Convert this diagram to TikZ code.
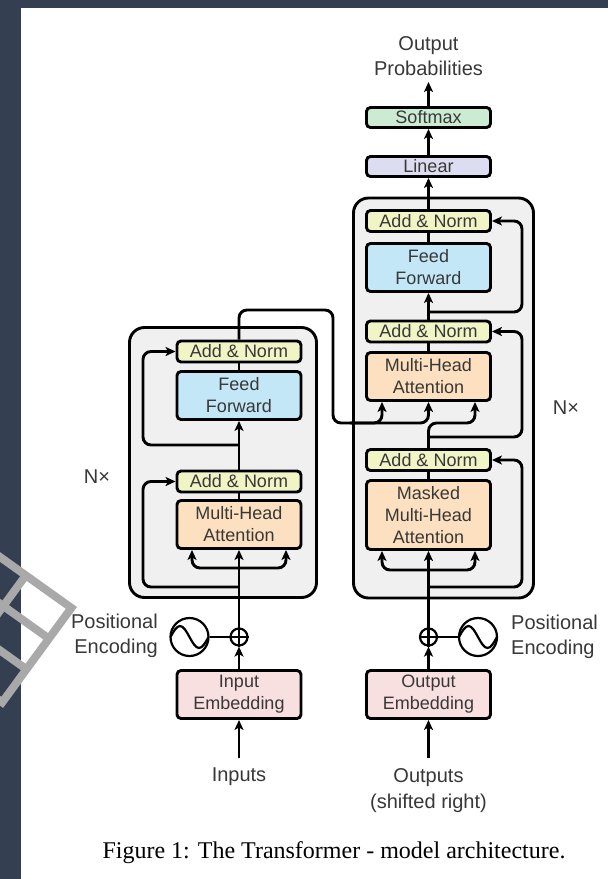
\documentclass[tikz,border=0pt]{standalone}
\usepackage{fontspec}
\setmainfont{Liberation Serif}
\newfontfamily\sansfam{Liberation Sans}
\usetikzlibrary{arrows.meta,calc}
\definecolor{strip}{HTML}{353F52}
\definecolor{gridgray}{HTML}{A9A9A9}
\definecolor{contfill}{HTML}{F0F0F0}
\definecolor{ancol}{HTML}{F1F4C5}
\definecolor{ffcol}{HTML}{C3E7F7}
\definecolor{attcol}{HTML}{FDE0BF}
\definecolor{embcol}{HTML}{F8DFE0}
\definecolor{smcol}{HTML}{CBEBD3}
\definecolor{lincol}{HTML}{DDDDF1}
\definecolor{txt}{HTML}{383838}
\newcommand\boxfont{\sansfam\fontsize{18}{22}\selectfont}
\newcommand\labfont{\sansfam\fontsize{20}{25.5}\selectfont}
\tikzset{
  conn/.style={line width=2.9pt, rounded corners=8pt},
  arr/.style={conn, -{Stealth[length=10pt,width=9pt,inset=2.5pt]}},
  cont/.style={draw, fill=contfill, line width=2.9pt, rounded corners=15pt, inner sep=0pt},
  box/.style={draw, line width=2.9pt, rounded corners=4pt, minimum width=124pt, inner sep=0pt, align=center, font=\boxfont, text=txt},
  anbox/.style={box, fill=ancol, minimum height=21pt},
  ffbox/.style={box, fill=ffcol, minimum height=48pt},
  attbox/.style={box, fill=attcol, minimum height=48pt},
  embbox/.style={box, fill=embcol, minimum height=48pt},
  linbox/.style={box, fill=lincol, minimum height=20pt},
  smbox/.style={box, fill=smcol, minimum height=20pt},
  plusnode/.style={draw, circle, line width=2.2pt, minimum size=17pt, inner sep=0pt},
  sinenode/.style={draw, circle, line width=2.2pt, minimum size=38pt, inner sep=0pt},
  lab/.style={font=\labfont, text=txt, align=center, inner sep=0pt},
  gridline/.style={draw=gridgray, line width=8pt, line join=miter},
}
\begin{document}
\begin{tikzpicture}[x=1pt,y=-1pt]
\useasboundingbox (0,0) rectangle (608,879);
\fill[white] (0,0) rectangle (608,879);
\fill[strip] (0,0) rectangle (21,879);
\fill[strip] (0,0) rectangle (608,8);

% decorative grid
\begin{scope}
\clip (0,0) rectangle (608,879);
\begin{scope}[shift={(77,607)}, x={(-0.814pt,0.581pt)}, y={(-0.591pt,-0.807pt)}]
\draw[gridline] (135,4) -- (4,4) -- (4,121) -- (135,121);
\draw[gridline] (4,42) -- (135,42);
\draw[gridline] (4,80) -- (135,80);
\draw[gridline] (60,4) -- (60,121);
\draw[gridline] (118,4) -- (118,121);
\end{scope}
\end{scope}

% containers
\node[cont, minimum width=187pt, minimum height=270pt] (enc) at (223,462.5) {};
\node[cont, minimum width=180pt, minimum height=400pt] (dec) at (443.5,398) {};

% encoder
\node[anbox] (ean2) at (239,351.5) {Add \& Norm};
\node[ffbox] (eff) at (239,395.5) {Feed\\Forward};
\node[anbox] (ean1) at (239,481.5) {Add \& Norm};
\node[attbox] (emha) at (239,524.5) {Multi-Head\\Attention};
\node[embbox] (eemb) at (239,694.5) {Input\\Embedding};
\node[plusnode] (epe) at (239,637) {};
\node[sinenode] (esin) at (189.5,637) {};

% decoder
\node[anbox] (dan3) at (428.5,221) {Add \& Norm};
\node[ffbox] (dff) at (428.5,267.5) {Feed\\Forward};
\node[anbox] (dan2) at (428.5,331.5) {Add \& Norm};
\node[attbox] (dmha) at (428.5,376.5) {Multi-Head\\Attention};
\node[anbox] (dan1) at (428.5,460) {Add \& Norm};
\node[attbox, minimum height=69pt] (dmmha) at (428.5,515) {Masked\\Multi-Head\\Attention};
\node[embbox] (demb) at (428.5,694.5) {Output\\Embedding};
\node[plusnode] (dpe) at (428.5,637) {};
\node[sinenode] (dsin) at (478,637) {};
\node[linbox] (lin) at (428.5,166.5) {Linear};
\node[smbox] (sm) at (428.5,117.5) {Softmax};

% labels
\node[lab] (outprob) at (428.5,56) {Output\\Probabilities};
\node[lab] (inlab) at (239,777) {Inputs};
\node[lab] (outlab) at (428.5,790.5) {Outputs\\(shifted right)};
\node[lab, anchor=east, align=right] (epelab) at (158,636) {Positional\\Encoding};
\node[lab, anchor=west, align=left] (dpelab) at (511,637) {Positional\\Encoding};
\node[lab] (nenc) at (97,477) {N×};
\node[lab] (ndec) at (566,408) {N×};
\node[font=\fontsize{24}{28}\selectfont, inner sep=0pt] (cap) at (334,853) {Figure 1: The Transformer - model architecture.};

% plus signs and sine waves
\draw[line width=2.2pt] (epe.north) -- (epe.south) (epe.west) -- (epe.east);
\draw[line width=2.2pt] (dpe.north) -- (dpe.south) (dpe.west) -- (dpe.east);
\draw[line width=2.2pt] ($(esin)+(-19,0)$) sin ++(9.5,-11) cos ++(9.5,11) sin ++(9.5,11) cos ++(9.5,-11);
\draw[line width=2.2pt] ($(dsin)+(-19,0)$) sin ++(9.5,-11) cos ++(9.5,11) sin ++(9.5,11) cos ++(9.5,-11);

% coordinates
\coordinate (inp) at (239,758);
\coordinate (outp) at (428.5,758);
\coordinate (prob) at (428.5,82);
\coordinate (ebr) at (239,568);
\coordinate (ek) at ($(emha.south)+(-47,0)$);
\coordinate (ev) at ($(emha.south)+(47,0)$);
\coordinate (eres1) at (239,587);
\coordinate (eres2) at (239,445);
\coordinate (dk) at ($(dmha.south)+(-46.5,0)$);
\coordinate (dq) at ($(dmha.south)+(46.5,0)$);
\coordinate (encin) at (350,423);
\coordinate (dbr) at (428.5,570);
\coordinate (mk) at ($(dmmha.south)+(-46.5,0)$);
\coordinate (mq) at ($(dmmha.south)+(46.5,0)$);
\coordinate (dres1) at (428.5,587);
\coordinate (dres2) at (428.5,437);
\coordinate (dres3) at (428.5,312);

% encoder connectors
\draw[arr] (inp) -- (eemb.south);
\draw[arr] (eemb.north) -- (epe.south);
\draw[line width=2.2pt] (esin.east) -- (epe.west);
\draw[arr] (epe.north) -- (emha.south);
\draw[arr] (ebr) -| (ek);
\draw[arr] (ebr) -| (ev);
\draw[arr] (eres1) -| (143,481.5) -- (ean1.west);
\draw[conn] (emha.north) -- (ean1.south);
\draw[arr] (ean1.north) -- (eff.south);
\draw[arr] (eres2) -| (143,351.5) -- (ean2.west);
\draw[conn] (eff.north) -- (ean2.south);
\draw[arr] (ean2.north) |- (333,310) -- (333,423) -| (dmha.south);
\draw[arr] (encin) -| (dk);

% decoder connectors
\draw[arr] (outp) -- (demb.south);
\draw[arr] (demb.north) -- (dpe.south);
\draw[line width=2.2pt] (dsin.west) -- (dpe.east);
\draw[arr] (dpe.north) -- (dmmha.south);
\draw[arr] (dbr) -| (mk);
\draw[arr] (dbr) -| (mq);
\draw[arr] (dres1) -| (522,460) -- (dan1.east);
\draw[conn] (dmmha.north) -- (dan1.south);
\draw[arr] (dan1.north) |- (460,423) -| (dq);
\draw[arr] (dres2) -| (522,331.5) -- (dan2.east);
\draw[conn] (dmha.north) -- (dan2.south);
\draw[arr] (dan2.north) -- (dff.south);
\draw[arr] (dres3) -| (522,221) -- (dan3.east);
\draw[conn] (dff.north) -- (dan3.south);
\draw[arr] (dan3.north) -- (lin.south);
\draw[arr] (lin.north) -- (sm.south);
\draw[arr] (sm.north) -- (prob);
\end{tikzpicture}
\end{document}
